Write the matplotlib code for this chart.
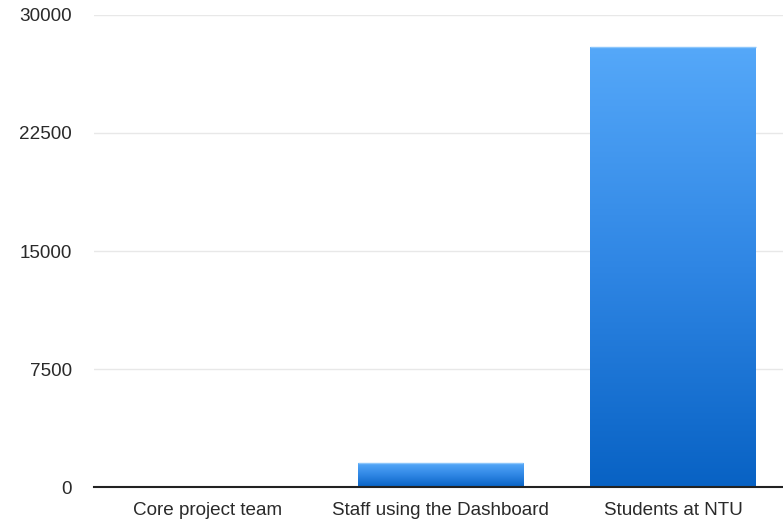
import numpy as np
import matplotlib
matplotlib.use("Agg")
import matplotlib.pyplot as plt
from matplotlib.colors import LinearSegmentedColormap

categories = ["Core project team", "Staff using the Dashboard", "Students at NTU"]
values = [10, 1500, 27950]
y_ticks = [0, 7500, 15000, 22500, 30000]

plt.rcParams["font.family"] = ["Liberation Sans", "DejaVu Sans"]

W, H = 783, 519
fig = plt.figure(figsize=(W / 100, H / 100), dpi=100)
ax = fig.add_axes([94 / W, 1 - 487 / H, 1 - 94 / W, (487 - 15) / H])

ax.set_xlim(-0.49, 2.473)
ax.set_ylim(0, 30000)

grad = LinearSegmentedColormap.from_list("bar", ["#0862c4", "#2f86e4", "#55a8f9"])
bar_w = 0.71
ramp = np.linspace(0, 1, 256).reshape(-1, 1)
x = np.arange(len(categories))
bars = ax.bar(x, values, width=bar_w, color="none", edgecolor="none", zorder=2)
for b, v in zip(bars, values):
    x0 = b.get_x()
    img = ax.imshow(ramp, cmap=grad, origin="lower", aspect="auto",
                    extent=(x0, x0 + bar_w, 0, v), zorder=2, interpolation="bilinear")
    img.set_clip_path(b)
    ax.plot([x0, x0 + bar_w], [v, v], color="#8cc6fb", lw=1, zorder=3,
            solid_capstyle="butt")

ax.set_xticks(x)
ax.set_xticklabels(categories, fontsize=13.6, color="#2a2a2a")
ax.set_yticks(y_ticks)
ax.set_yticklabels([str(t) for t in y_ticks], fontsize=13.6, color="#2a2a2a")
ax.tick_params(axis="both", length=0)
ax.tick_params(axis="x", pad=10.5)
ax.tick_params(axis="y", pad=15.8)

ax.grid(axis="y", color="#e8e8e8", linewidth=1, zorder=0)
ax.set_axisbelow(True)
for side in ["top", "right", "left"]:
    ax.spines[side].set_visible(False)
ax.spines["bottom"].set_color("#222222")
ax.spines["bottom"].set_linewidth(1.5)
ax.spines["bottom"].set_zorder(4)

fig.savefig("out.png", dpi=100)
